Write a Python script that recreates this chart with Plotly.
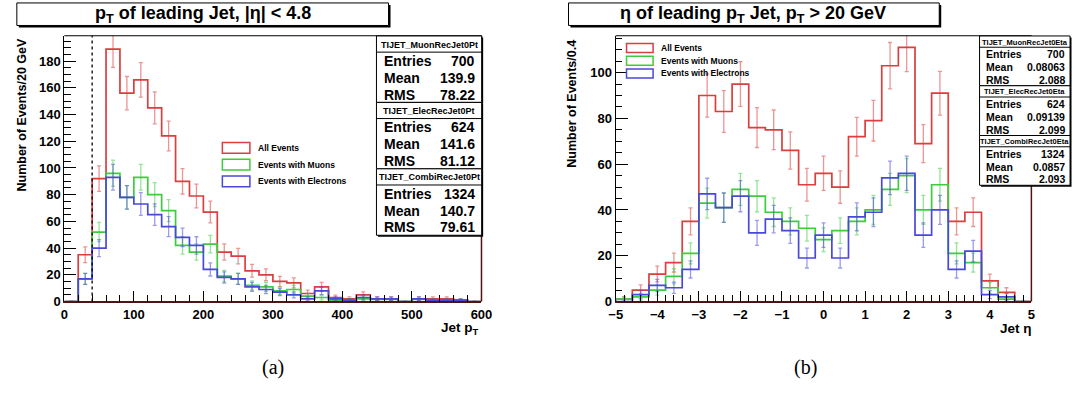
import numpy as np
import plotly.graph_objects as go

# ---------------- data ----------------
# leading-jet pT, 20 GeV bins from 0 to 600 GeV
pt_edges = list(range(0, 620, 20))
pt_all = [0, 35, 92, 189, 156, 166, 145, 124, 90, 79, 67, 37, 34, 23, 20,
          15, 14, 6, 11, 3, 2, 5, 2, 2, 0, 2, 2, 2, 1, 0]
pt_muon = [0, 17, 52, 96, 78, 93, 80, 68, 42, 37, 43, 19, 17, 12, 11,
           8, 9, 4, 3, 1, 1, 2, 0, 0, 0, 0, 1, 1, 0, 0]
pt_elec = [0, 17, 40, 93, 78, 73, 65, 56, 48, 42, 24, 18, 17, 11, 9,
           7, 5, 2, 8, 2, 1, 3, 2, 2, 0, 2, 1, 1, 1, 0]
pt_cut = 40

# eta of the leading jet, 0.4 bins from -5 to 5
eta_edges = [round(-5 + 0.4 * i, 1) for i in range(26)]
eta_all = [1, 5, 12, 17, 35, 90, 83, 95, 76, 75, 66, 51, 56, 50, 72,
           79, 103, 111, 69, 91, 35, 39, 9, 4, 0]
eta_muon = [1, 2, 5, 11, 21, 43, 41, 49, 46, 39, 35, 32, 27, 31, 35,
            40, 49, 55, 40, 51, 21, 17, 6, 1, 0]
eta_elec = [0, 3, 7, 6, 14, 47, 41, 46, 30, 36, 31, 19, 29, 19, 37,
            39, 54, 56, 29, 40, 14, 22, 3, 2, 0]

legend_labels = ["All Events", "Events with Muons", "Events with Electrons"]

pt_stats = [("TIJET_MuonRecJet0Pt", "700", "139.9", "78.22"),
            ("TIJET_ElecRecJet0Pt", "624", "141.6", "81.12"),
            ("TIJET_CombiRecJet0Pt", "1324", "140.7", "79.61")]
eta_stats = [("TIJET_MuonRecJet0Eta", "700", "0.08063", "2.088"),
             ("TIJET_ElecRecJet0Eta", "624", "0.09139", "2.099"),
             ("TIJET_CombiRecJet0Eta", "1324", "0.0857", "2.093")]

# ---------------- style ----------------
W, H = 1083, 397
FONT = "Liberation Sans"
RED, GREEN, BLUE = "rgb(218,62,62)", "rgb(62,204,62)", "rgb(72,72,218)"
RED_E, GREEN_E, BLUE_E = ("rgba(218,62,62,0.55)", "rgba(62,204,62,0.55)",
                          "rgba(72,72,218,0.55)")
FRAME_DARK = "rgb(80,20,20)"


def fx(x):
    return x / W


def fy(y):
    return 1 - y / H


def bold(size):
    return dict(family=FONT, size=size, color="black", weight="bold")


fig = go.Figure()


def add_hist(edges, values, color, ecolor, xa, ya):
    xs = [edges[0]] + list(edges[:-1]) + [edges[-1], edges[-1]]
    ys = [0] + list(values) + [values[-1], 0]
    fig.add_trace(go.Scatter(x=xs, y=ys, mode="lines", line_shape="hv",
                             line=dict(color=color, width=1.7),
                             xaxis=xa, yaxis=ya, hoverinfo="skip",
                             showlegend=False))
    centers = [(edges[i] + edges[i + 1]) / 2 for i in range(len(values))]
    fig.add_trace(go.Scatter(x=centers, y=values, mode="markers",
                             marker=dict(size=1, opacity=0),
                             error_y=dict(type="data",
                                          array=np.sqrt(values),
                                          width=2, thickness=1.3,
                                          color=ecolor),
                             xaxis=xa, yaxis=ya, hoverinfo="skip",
                             showlegend=False))


for vals, c, ec in [(pt_all, RED, RED_E), (pt_muon, GREEN, GREEN_E),
                    (pt_elec, BLUE, BLUE_E)]:
    add_hist(pt_edges, vals, c, ec, "x", "y")
for vals, c, ec in [(eta_all, RED, RED_E), (eta_muon, GREEN, GREEN_E),
                    (eta_elec, BLUE, BLUE_E)]:
    add_hist(eta_edges, vals, c, ec, "x2", "y2")

# ---------------- axes ----------------
PLOT_TOP, PLOT_BOT = 36.5, 307.7
L_X0, L_X1 = 58.3, 482.5
R_X0, R_X1 = 619.0, 1041.7

common_x = dict(ticks="inside", ticklen=11, tickwidth=1, tickcolor="black",
                showline=True, linecolor=FRAME_DARK, linewidth=1.5,
                showgrid=False, zeroline=False, tickfont=bold(13),
                minor=dict(ticks="inside", ticklen=6.5, tickcolor="black",
                           showgrid=False))
common_y = dict(ticks="inside", ticklen=12, tickwidth=1, tickcolor="black",
                showline=True, linecolor="black", linewidth=1.2,
                showgrid=False, zeroline=False, tickfont=bold(13),
                minor=dict(ticks="inside", ticklen=6.5, tickcolor="black",
                           showgrid=False))

fig.update_layout(
    width=W, height=H, margin=dict(l=0, r=0, t=0, b=0),
    paper_bgcolor="white", plot_bgcolor="white", showlegend=False,
    xaxis=dict(domain=[fx(L_X0), fx(L_X1)], range=[0, 600], dtick=100,
               anchor="y", **{**common_x, "minor": {**common_x["minor"], "dtick": 20}}),
    yaxis=dict(domain=[fy(PLOT_BOT), fy(PLOT_TOP)], range=[0, 199], dtick=20,
               anchor="x", **{**common_y, "minor": {**common_y["minor"], "dtick": 5}}),
    xaxis2=dict(domain=[fx(R_X0), fx(R_X1)], range=[-5, 5], dtick=1,
                anchor="y2", **{**common_x, "minor": {**common_x["minor"], "dtick": 0.2}}),
    yaxis2=dict(domain=[fy(PLOT_BOT), fy(PLOT_TOP)], range=[0, 116.1], dtick=20,
                anchor="x2", **{**common_y, "minor": {**common_y["minor"], "dtick": 5}}),
)

shapes = []
annotations = []

# top and right frame edges
for xa, ya in [("x", "y"), ("x2", "y2")]:
    shapes.append(dict(type="line", xref=f"{xa} domain", yref=f"{ya} domain",
                       x0=0, x1=1, y0=1, y1=1,
                       line=dict(color="black", width=1.2)))
    shapes.append(dict(type="line", xref=f"{xa} domain", yref=f"{ya} domain",
                       x0=1, x1=1, y0=0, y1=1,
                       line=dict(color=FRAME_DARK, width=1.5)))

# pT cut marker
shapes.append(dict(type="line", xref="x", yref="y domain", x0=pt_cut,
                   x1=pt_cut, y0=0, y1=1,
                   line=dict(color="black", width=1.3, dash="dot")))


def box(x0, y0, x1, y1, shadow=2):
    shapes.append(dict(type="rect", xref="paper", yref="paper",
                       x0=fx(x0 + shadow), x1=fx(x1 + shadow),
                       y0=fy(y1 + shadow), y1=fy(y0 + shadow),
                       line=dict(width=0), fillcolor="black"))
    shapes.append(dict(type="rect", xref="paper", yref="paper",
                       x0=fx(x0), x1=fx(x1), y0=fy(y1), y1=fy(y0),
                       line=dict(color="black", width=1), fillcolor="white"))


def hline(x0, x1, y):
    shapes.append(dict(type="line", xref="paper", yref="paper",
                       x0=fx(x0), x1=fx(x1), y0=fy(y), y1=fy(y),
                       line=dict(color="black", width=1)))


def text(x, y, s, size, xanchor="center", yanchor="middle", angle=0):
    annotations.append(dict(x=fx(x), y=fy(y), xref="paper", yref="paper",
                            text=s, showarrow=False, font=bold(size),
                            xanchor=xanchor, yanchor=yanchor,
                            textangle=angle))


# titles
box(10, 3, 388, 26)
text(199, 15, "p<sub>T</sub> of leading Jet, |η| &lt; 4.8", 18)
box(571, 3, 948, 26)
text(759, 15, "η of leading p<sub>T</sub> Jet, p<sub>T</sub> &gt; 20 GeV", 18)

# axis titles
text(15, 37, "Number of Events/20 GeV", 12.5, yanchor="top", angle=-90)
text(575, 38, "Number of Events/0.4", 12.5, yanchor="top", angle=-90)
text(482, 325, "Jet p<sub>T</sub>", 13.5, xanchor="right", yanchor="top")
text(1044, 326, "Jet η", 13.5, xanchor="right", yanchor="top")


# statistics boxes
def stats_panel(x0, x1, y_top, block_h, head_h, head_size, body_size,
                entries, pad):
    for i, (name, n, mean, rms) in enumerate(entries):
        top = y_top + i * block_h
        box(x0, top, x1, top + block_h, shadow=1.5)
        hline(x0, x1, top + head_h)
        text((x0 + x1) / 2, top + head_h / 2 + 0.5, name, head_size)
        row_h = (block_h - head_h) / 3
        for j, (lab, val) in enumerate([("Entries", n), ("Mean", mean),
                                        ("RMS", rms)]):
            yy = top + head_h + row_h * (j + 0.5) + 0.5
            text(x0 + pad, yy, lab, body_size, xanchor="left")
            text(x1 - pad + 1, yy, val, body_size, xanchor="right")


stats_panel(375.7, 482.7, 36.7, 67.8, 16.5, 9, 14, pt_stats, 5.5)
stats_panel(989, 1081, 36.7, 50.8, 11.5, 7.5, 10.5, eta_stats, 4.5)


# legends
def legend(x_box, y_rows, w, h, size):
    for lab, col, yy in zip(legend_labels, [RED, GREEN, BLUE], y_rows):
        shapes.append(dict(type="rect", xref="paper", yref="paper",
                           x0=fx(x_box), x1=fx(x_box + w),
                           y0=fy(yy + h / 2), y1=fy(yy - h / 2),
                           line=dict(color=col, width=1.5),
                           fillcolor="white"))
        text(x_box + w + 6, yy, lab, size, xanchor="left")


legend(219, [151, 168, 185], 28, 11, 8.5)
legend(630, [49, 62, 75], 27, 9, 8.5)

# sub-figure captions
for x, s in [(270, "(a)"), (812, "(b)")]:
    annotations.append(dict(x=fx(x), y=fy(375), xref="paper", yref="paper",
                            text=s, showarrow=False,
                            font=dict(family="Liberation Serif", size=20,
                                      color="black"),
                            xanchor="center", yanchor="middle"))

fig.update_layout(shapes=shapes, annotations=annotations)
fig.write_html("out.html")
